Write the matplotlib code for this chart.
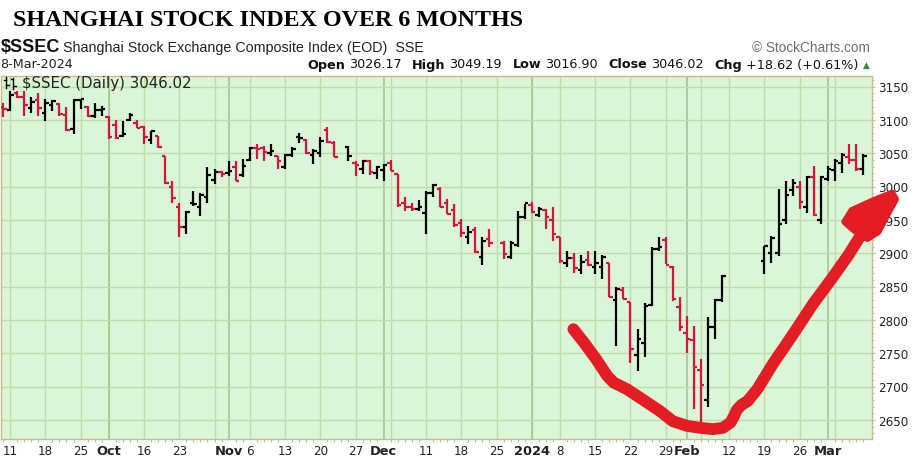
import numpy as np
import pandas as pd
import matplotlib
matplotlib.use("Agg")
import matplotlib.pyplot as plt
from matplotlib.collections import LineCollection
from matplotlib.lines import Line2D
from matplotlib.patches import Polygon

W, H = 919, 460

# trading calendar of the chart: Shanghai closures dropped, the Chinese New
# Year week (Feb 12-16) kept as empty slots, as StockCharts draws it
closed_days = ["2023-09-29", "2023-10-02", "2023-10-03", "2023-10-04", "2023-10-05",
               "2023-10-06", "2024-01-01", "2024-02-09"]
dates = [d for d in pd.bdate_range("2023-09-08", "2024-03-08")
         if d.strftime("%Y-%m-%d") not in closed_days]

# daily OHLC (None = no bar drawn)
opens = [3120, 3115, 3140, 3135, 3118, 3130, 3110, 3122, 3124, 3108, 3086, 3130, 3119, 3106, 3115,
         3104, 3092, 3076, 3100, 3096, 3090, 3070, 3076, 3046, 3000, 2970, 2940, 2975, 2970, 2985,
         3010, 3022, 3020, 3030, 3018, 3040, 3058, 3058, 3050, 3046, 3030, 3048, 3075, 3070, 3048,
         3050, 3085, 3065, None, 3060, 3036, 3026, 3038, 3020, 3025, 3035, 3019, 2975, 2970, 2966,
         2960, 2990, 2996, 2975, 2965, 2945, 2925, 2935, 2895, 2922, None, 2915, 2895, 2912, 2955,
         2972, 2958, 2965, 2950, 2924, 2885, 2893, 2875, 2890, 2880, 2880, 2886, 2830, 2845, 2827,
         2748, 2765, 2822, 2906, 2920, 2880, 2820, 2780, 2770, 2725, 2680, 2790, 2830,
         None, None, None, None, None,
         2888, 2900, 2900, 2950, 2995, 3000, 2970, 3015, 2950, 3012, 3025, 3035, 3045, 3040, 3026.17]
highs = [3126, 3143, 3144, 3144, 3134, 3141, 3131, 3130, 3125, 3119, 3131, 3132, 3121, 3125, 3121,
         3106, 3100, 3099, 3110, 3100, 3091, 3084, 3076, 3046, 3009, 2976, 2964, 2994, 2991, 3029,
         3026, 3024, 3039, 3039, 3041, 3059, 3064, 3061, 3064, 3046, 3049, 3059, 3081, 3071, 3056,
         3074, 3089, 3069, None, 3061, 3038, 3040, 3040, 3031, 3034, 3040, 3019, 2984, 2976, 2980,
         2994, 3004, 2999, 2981, 2974, 2951, 2941, 2939, 2924, 2936, None, 2919, 2919, 2964, 2974,
         2977, 2969, 2967, 2969, 2924, 2904, 2901, 2897, 2904, 2904, 2897, 2886, 2850, 2849, 2827,
         2786, 2826, 2909, 2924, 2924, 2881, 2834, 2806, 2791, 2741, 2804, 2831, 2867,
         None, None, None, None, None,
         2911, 2926, 2996, 3009, 3011, 3009, 3016, 3031, 3016, 3031, 3041, 3051, 3064, 3064, 3049.19]
lows = [3105, 3113, 3133, 3106, 3111, 3106, 3099, 3114, 3106, 3084, 3079, 3117, 3104, 3103, 3106,
        3071, 3071, 3074, 3099, 3088, 3064, 3064, 3058, 3004, 2976, 2924, 2929, 2971, 2956, 2976,
        3004, 3014, 3016, 3009, 3014, 3039, 3041, 3039, 3046, 3026, 3027, 3044, 3066, 3049, 3034,
        3044, 3066, 3044, None, 3039, 3016, 3019, 3018, 3011, 3009, 3024, 2970, 2964, 2964, 2964,
        2929, 2984, 2969, 2959, 2939, 2924, 2914, 2901, 2882, 2909, None, 2891, 2891, 2909, 2951,
        2961, 2955, 2936, 2919, 2886, 2879, 2871, 2869, 2881, 2869, 2861, 2834, 2761, 2831, 2736,
        2724, 2744, 2821, 2904, 2884, 2829, 2784, 2751, 2666, 2636, 2669, 2771, 2827,
        None, None, None, None, None,
        2869, 2886, 2896, 2944, 2986, 2966, 2961, 2956, 2944, 3009, 3009, 3021, 3034, 3024, 3016.90]
closes = [3117, 3137, 3135, 3123, 3127, 3118, 3126, 3128, 3109, 3085, 3130, 3131, 3106, 3115, 3117,
          3075, 3073, 3079, 3108, 3088, 3074, 3083, 3059, 3005, 2983, 2939, 2962, 2974, 2988, 3018,
          3022, 3019, 3023, 3009, 3031, 3058, 3057, 3052, 3053, 3039, 3047, 3056, 3073, 3051, 3054,
          3068, 3067, 3044, None, 3046, 3032, 3038, 3022, 3030, 3032, 3023, 2972, 2969, 2966, 2970,
          2991, 3003, 2969, 2959, 2943, 2931, 2932, 2902, 2919, 2915, None, 2899, 2915, 2955, 2975,
          2962, 2967, 2954, 2929, 2888, 2893, 2878, 2887, 2882, 2886, 2894, 2834, 2846, 2832, 2756,
          2771, 2821, 2906, 2910, 2883, 2831, 2789, 2771, 2730, 2702, 2789, 2830, 2866,
          None, None, None, None, None,
          2911, 2923, 2944, 2988, 3005, 2977, 3015, 2958, 3015, 3027, 3039, 3048, 3040, 3027, 3046.02]

y_ticks = [2650, 2700, 2750, 2800, 2850, 2900, 2950, 3000, 3050, 3100, 3150]

# hand-drawn red arrow, in (trading-day slot, index level)
arrow_x = [80.9, 82.4, 84.2, 85.7, 86.6, 88.5, 90.8, 93.2, 95.0, 97.0, 98.9, 100.7, 102.1,
           103.2, 103.7, 104.1, 104.7, 105.6, 107.0, 109.2, 112.1, 114.9, 117.7, 119.9, 121.5]
arrow_y = [2786, 2766, 2740, 2716, 2706, 2696, 2680, 2663, 2648, 2641, 2638, 2636, 2638,
           2646, 2656, 2665, 2672, 2678, 2696, 2734, 2779, 2824, 2864, 2897, 2924]
head_x = [119.4, 120.4, 123.3, 126.1, 126.6, 125.6, 124.1, 122.6, 120.8]
head_y = [2947, 2964, 2978, 2990, 2981, 2962, 2932, 2922, 2934]

BG = "#daf6d8"
GRID = "#c2dca6"
MONTH = "#a9c48c"
TAN = "#cbb98e"
BLACK = "#000000"
RED = "#d6143c"
PEN = "#e31d23"

o = np.array(opens, dtype=float)
hi = np.array(highs, dtype=float)
lo = np.array(lows, dtype=float)
c = np.array(closes, dtype=float)


def fpx(x, y):
    return x / W, 1 - y / H


fig = plt.figure(figsize=(W / 100, H / 100), dpi=100, facecolor="white")
ax = fig.add_axes([0.5 / W, 20 / H, 871.5 / W, 363.5 / H])
ax.set_facecolor(BG)
ax.set_xlim(-0.355, 123.26)
ax.set_ylim(2621.25, 3166.5)

# week / month grid
week_pos, month_pos, month_lab = [], [], []
for i, d in enumerate(dates):
    if i > 0 and d.month != dates[i - 1].month:
        month_pos.append(i)
        month_lab.append(str(d.year) if d.month == 1 else d.strftime("%b"))
    if i > 0 and d.isocalendar()[1] != dates[i - 1].isocalendar()[1]:
        week_pos.append(i)
for p in week_pos:
    ax.axvline(p, color=GRID, lw=1.0, zorder=0)
for p in month_pos:
    ax.axvline(p, color=MONTH, lw=1.2, zorder=0)
for v in y_ticks:
    ax.axhline(v, color=GRID, lw=1.0, zorder=0)

ticks, labels, bold = [], [], []
for p in week_pos:
    if any(abs(p - m) <= 2 for m in month_pos):
        continue
    ticks.append(p)
    labels.append(str(dates[p].day))
    bold.append(False)
for p, lab in zip(month_pos, month_lab):
    ticks.append(p)
    labels.append(lab)
    bold.append(True)
ax.set_xticks(ticks)
ax.set_xticklabels(labels, fontfamily="DejaVu Sans", fontsize=8.6, color="#222222")
for t, b in zip(ax.get_xticklabels(), bold):
    if b:
        t.set_fontweight("bold")
        t.set_fontsize(9.4)
ax.set_xticks(np.arange(len(dates)), minor=True)
ax.tick_params(axis="x", which="major", length=0, pad=3.5)
ax.tick_params(axis="x", which="minor", length=2, color=TAN, width=0.8)

ax.yaxis.tick_right()
ax.set_yticks(y_ticks)
ax.set_yticklabels([str(v) for v in y_ticks], fontfamily="DejaVu Sans", fontsize=8.6,
                   color="#222222")
ax.set_yticks(np.arange(2630, 3170, 10), minor=True)
ax.tick_params(axis="y", which="major", length=2.5, color=TAN, pad=2)
ax.tick_params(axis="y", which="minor", length=1.5, color=TAN, width=0.8)
for s in ax.spines.values():
    s.set_color(TAN)
    s.set_linewidth(1.0)

# OHLC bars, black when the close is up from the prior close
segs, cols = [], []
prev = None
tick = 0.5
for i in range(len(dates)):
    if np.isnan(c[i]):
        continue
    ref = prev if prev is not None else o[i]
    col = BLACK if c[i] >= ref else RED
    segs += [[(i, lo[i]), (i, hi[i])], [(i - tick, o[i]), (i, o[i])], [(i, c[i]), (i + tick, c[i])]]
    cols += [col] * 3
    prev = c[i]
ax.add_collection(LineCollection(segs, colors=cols, linewidths=1.6, capstyle="butt", zorder=3))

# red hand-drawn arrow
ax.plot(arrow_x, arrow_y, color=PEN, lw=8.5, solid_capstyle="round",
        solid_joinstyle="round", clip_on=False, zorder=6)
ax.add_patch(Polygon(list(zip(head_x, head_y)), closed=True, facecolor=PEN,
                     edgecolor=PEN, lw=5, joinstyle="round", clip_on=False, zorder=6))

# headers
fig.text(*fpx(13, 20.5), "SHANGHAI STOCK INDEX OVER 6 MONTHS", fontfamily="Liberation Serif",
         fontweight="bold", fontsize=17.3, va="center", ha="left")
fig.text(*fpx(1, 47.5), "$SSEC", fontfamily="Liberation Sans", fontweight="bold", fontsize=13,
         va="center", ha="left", color="#111111")
fig.text(*fpx(63, 48), "Shanghai Stock Exchange Composite Index (EOD)  SSE",
         fontfamily="Liberation Sans", fontsize=10.3, va="center", ha="left", color="#222222")
fig.text(*fpx(870, 48), "\u00a9 StockCharts.com", fontfamily="Liberation Sans", fontsize=9.8,
         va="center", ha="right", color="#6f6f6f")
fig.text(*fpx(0, 64), "8-Mar-2024", fontfamily="DejaVu Sans", fontsize=9.2, va="center",
         ha="left", color="#222222")

fig.canvas.draw()
rend = fig.canvas.get_renderer()
pieces = [("Open", True), ("3026.17", False), ("High", True), ("3049.19", False),
          ("Low", True), ("3016.90", False), ("Close", True), ("3046.02", False),
          ("Chg", True), ("+18.62 (+0.61%)", False)]
xcur = 307
for s, b in pieces:
    t = fig.text(*fpx(xcur, 65), s, fontfamily="DejaVu Sans", fontsize=9.2,
                 fontweight="bold" if b else "normal", va="center", ha="left",
                 color="#111111")
    w = t.get_window_extent(rend).width
    xcur += w + (4 if b else 10.5)
fig.text(*fpx(866, 65), "\u25b2", fontfamily="DejaVu Sans", fontsize=6.5, va="center",
         ha="center", color="#2e8b3a")

# legend glyph + label inside the plot
for gx, yo, yc, y0, y1 in [(6, 81, 86, 78, 89), (13, 80, 87, 79, 90)]:
    for xs, ys in [([gx, gx], [y0, y1]), ([gx - 2.5, gx], [yo, yo]), ([gx, gx + 2.5], [yc, yc])]:
        fig.add_artist(Line2D([v / W for v in xs], [1 - v / H for v in ys], color="black",
                              lw=1.0, transform=fig.transFigure))
fig.text(*fpx(22, 83.5), "$SSEC (Daily) 3046.02", fontfamily="DejaVu Sans", fontsize=10.8,
         va="center", ha="left", color="#222222")

fig.savefig("out.png", dpi=100, facecolor="white")
